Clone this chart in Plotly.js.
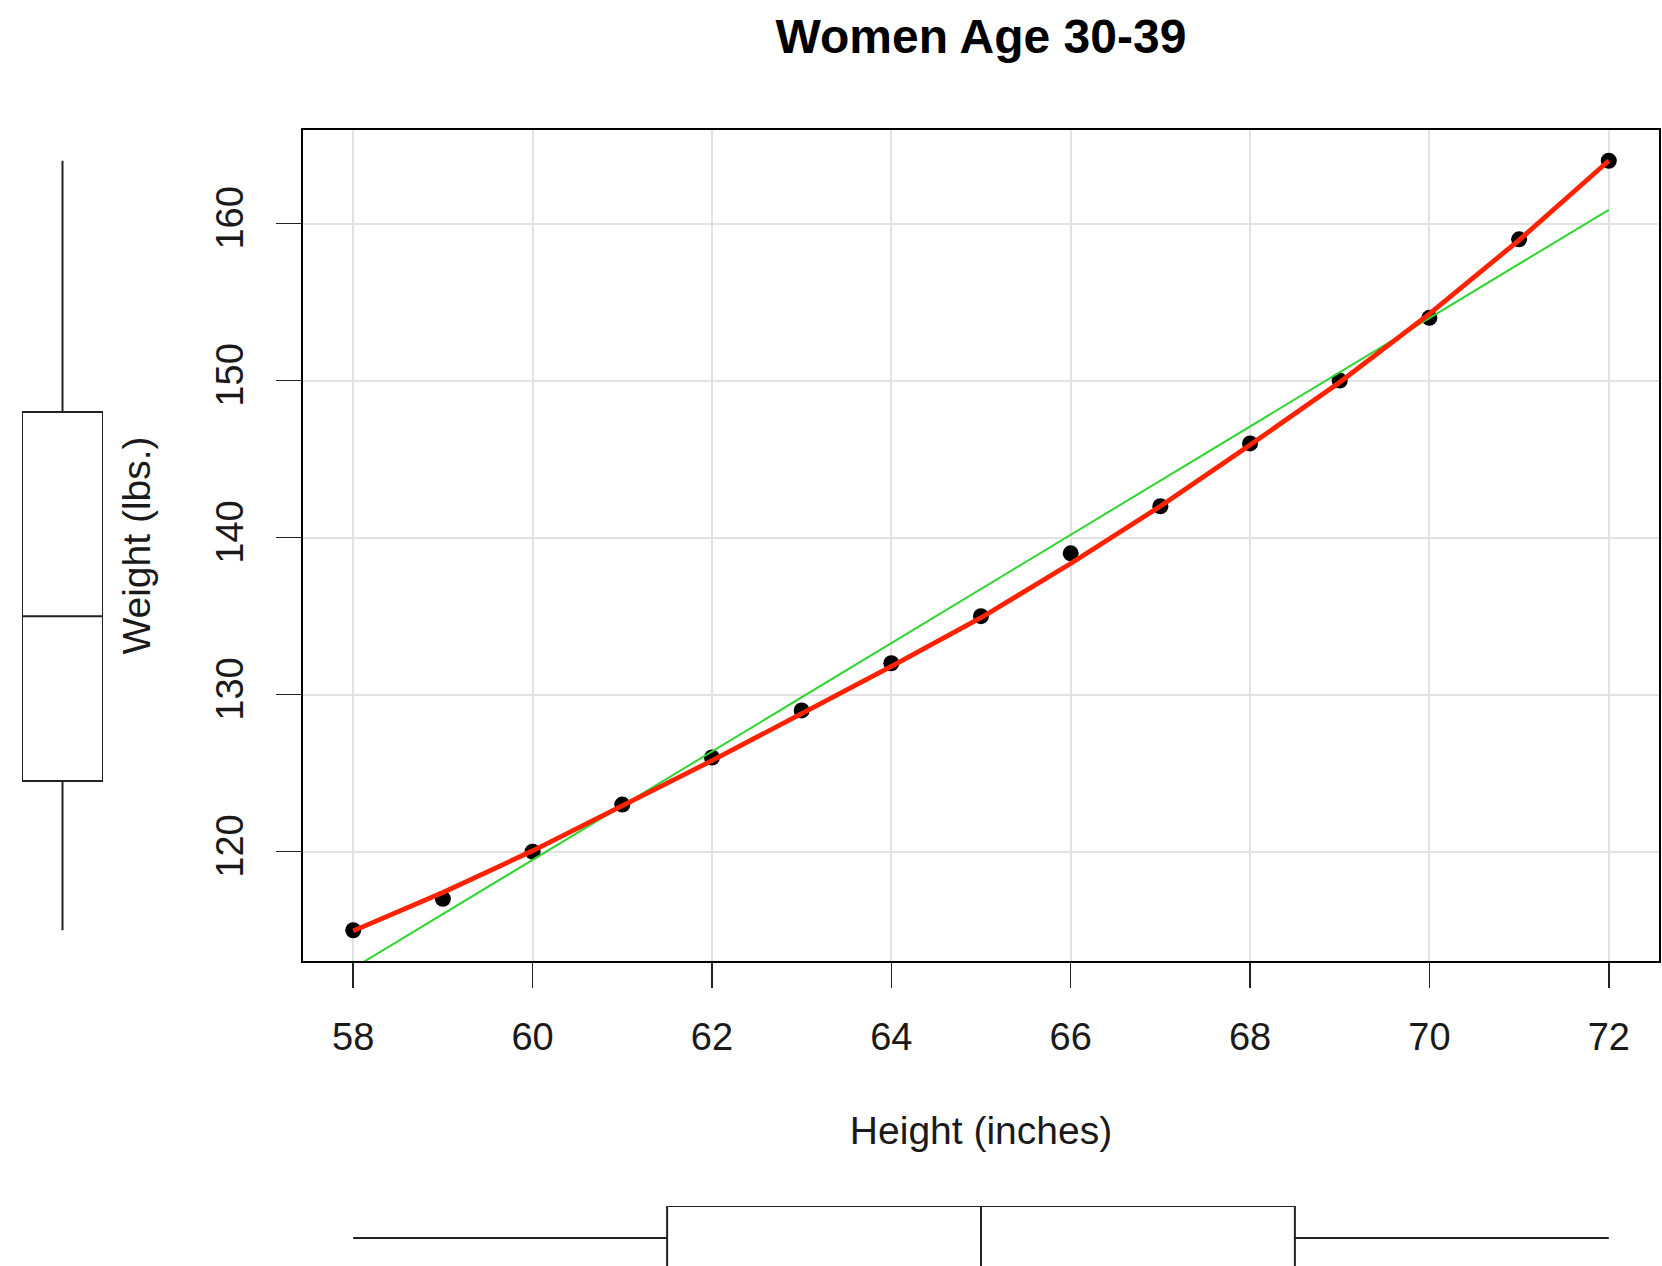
<!DOCTYPE html>
<html>
<head>
<meta charset="utf-8">
<script src="https://cdn.plot.ly/plotly-3.0.1.min.js"></script>
<style>
html, body { margin: 0; padding: 0; background: #ffffff; }
#chart { width: 1662px; height: 1266px; }
</style>
</head>
<body>
<div id="chart"></div>
<script>
// Data (women dataset)
const heights = [58, 59, 60, 61, 62, 63, 64, 65, 66, 67, 68, 69, 70, 71, 72];
const weights = [115, 117, 120, 123, 126, 129, 132, 135, 139, 142, 146, 150, 154, 159, 164];
// Smoothed (lowess) curve, red
const smoothY = [114.96, 117.4, 120.06, 122.9, 125.8, 128.8, 131.8, 134.9, 138.35, 142.0, 145.9, 149.9, 154.25, 158.95, 164.0];
// Linear fit, green (end points)
const fitX = [58, 72];
const fitY = [112.58, 160.88];
const xTicks = [58, 60, 62, 64, 66, 68, 70, 72];
const yTicks = [120, 130, 140, 150, 160];

const W = 1662, H = 1266;
const plotL = 303, plotR = 1659, plotT = 130, plotB = 961;
const xRange = [57.44, 72.56];
const yRange = [113.04, 165.96];
const FONT = 'Liberation Sans, Arial, Helvetica, sans-serif';
const TXT = '#1a1a1a';

const xDom = [plotL / W, plotR / W];
const yDom = [1 - plotB / H, 1 - plotT / H];

const traces = [
  {
    type: 'scatter', mode: 'markers', x: heights, y: weights,
    xaxis: 'x', yaxis: 'y',
    marker: { color: '#000000', size: 16 },
    hoverinfo: 'skip', showlegend: false
  },
  {
    type: 'scatter', mode: 'lines', x: fitX, y: fitY,
    xaxis: 'x', yaxis: 'y',
    line: { color: '#2fd62f', width: 2 },
    hoverinfo: 'skip', showlegend: false
  },
  {
    type: 'scatter', mode: 'lines', x: heights, y: smoothY,
    xaxis: 'x', yaxis: 'y',
    line: { color: '#ff2200', width: 4.8 },
    hoverinfo: 'skip', showlegend: false
  },
  {
    type: 'box', y: weights, x0: 0, width: 1,
    xaxis: 'x2', yaxis: 'y2',
    quartilemethod: 'inclusive', boxpoints: false, whiskerwidth: 0,
    fillcolor: '#ffffff', line: { color: '#222222', width: 2 },
    hoverinfo: 'skip', showlegend: false
  },
  {
    type: 'box', x: heights, y0: 0, width: 1, orientation: 'h',
    xaxis: 'x3', yaxis: 'y3',
    quartilemethod: 'inclusive', boxpoints: false, whiskerwidth: 0,
    fillcolor: '#ffffff', line: { color: '#222222', width: 2 },
    hoverinfo: 'skip', showlegend: false
  }
];

const hidden = { visible: false, showgrid: false, zeroline: false, fixedrange: true };

const layout = {
  width: W, height: H,
  margin: { l: 0, r: 0, t: 0, b: 0, pad: 0 },
  paper_bgcolor: '#ffffff', plot_bgcolor: 'rgba(0,0,0,0)',
  showlegend: false,
  font: { family: FONT, color: TXT },
  title: {
    text: '<b>Women Age 30-39</b>',
    font: { family: FONT, size: 48, color: '#000000' },
    x: ((plotL + plotR) / 2) / W, xanchor: 'center', xref: 'paper',
    y: 1 - 36 / H, yanchor: 'middle', yref: 'paper'
  },
  xaxis: {
    domain: xDom, range: xRange, anchor: 'y',
    tickmode: 'array', tickvals: xTicks, ticktext: xTicks.map(String),
    ticks: 'outside', ticklen: 25, tickwidth: 1.5, tickcolor: '#222222',
    ticklabelstandoff: 16,
    tickfont: { family: FONT, size: 38, color: TXT },
    showline: true, linecolor: '#000000', linewidth: 2, mirror: true,
    showgrid: true, gridcolor: '#e2e2e2', gridwidth: 2, zeroline: false,
    title: { text: 'Height (inches)', font: { family: FONT, size: 39, color: TXT }, standoff: 60 }
  },
  yaxis: {
    domain: yDom, range: yRange, anchor: 'x',
    tickmode: 'array', tickvals: yTicks, ticktext: yTicks.map(String),
    ticks: 'outside', ticklen: 25, tickwidth: 1.5, tickcolor: '#222222',
    tickangle: -90, ticklabelstandoff: 18,
    tickfont: { family: FONT, size: 38, color: TXT },
    showline: true, linecolor: '#000000', linewidth: 2, mirror: true,
    showgrid: true, gridcolor: '#e2e2e2', gridwidth: 2, zeroline: false,
    title: { text: 'Weight (lbs.)', font: { family: FONT, size: 39, color: TXT }, standoff: 46 }
  },
  xaxis2: Object.assign({ domain: [22 / W, 103 / W], range: [-0.5, 0.5], anchor: 'y2' }, hidden),
  yaxis2: Object.assign({ domain: yDom, range: yRange, anchor: 'x2' }, hidden),
  xaxis3: Object.assign({ domain: xDom, range: xRange, anchor: 'y3' }, hidden),
  yaxis3: Object.assign({ domain: [0, (H - 1206) / H], range: [-0.5 + 4 / 64, 0.5], anchor: 'x3' }, hidden)
};

Plotly.newPlot('chart', traces, layout, { staticPlot: true, displayModeBar: false });
</script>
</body>
</html>
